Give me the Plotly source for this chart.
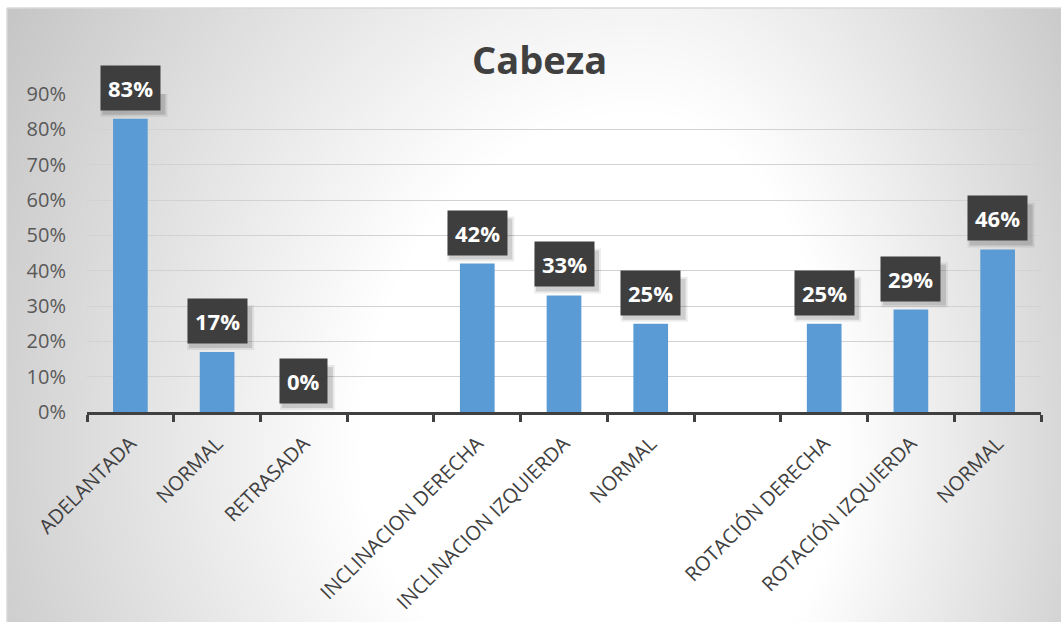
import numpy as np
import plotly.graph_objects as go

# Chart data
categories = ["ADELANTADA", "NORMAL", "RETRASADA", "",
              "INCLINACION DERECHA", "INCLINACION IZQUIERDA", "NORMAL", "",
              "ROTACIÓN DERECHA", "ROTACIÓN IZQUIERDA", "NORMAL"]
values = [0.83, 0.17, 0.00, None, 0.42, 0.33, 0.25, None, 0.25, 0.29, 0.46]
y_ticks = [0.0, 0.1, 0.2, 0.3, 0.4, 0.5, 0.6, 0.7, 0.8, 0.9]
title_text = "Cabeza"

W, H = 1061, 622
FONT = "Open Sans"
BAR_COLOR = "#5B9BD5"
TEXT_DARK = "#404040"

positions = list(range(len(categories)))

# Radial grey-to-white backdrop for the chart area
gx = np.linspace(-20, W + 20, 90)
gy = np.linspace(-20, H + 20, 60)
X, Y = np.meshgrid(gx, gy)
cx, cy = 640.0, 455.0
rx = np.where(X < cx, 700.0, 500.0)
ry = np.where(Y < cy, 850.0, 620.0)
t = np.sqrt(((X - cx) / rx) ** 2 + ((Y - cy) / ry) ** 2)
shade = np.clip((t - 0.40) / 0.68, 0, 1)

fig = go.Figure()

fig.add_trace(go.Heatmap(
    x=gx, y=gy, z=shade, zmin=0, zmax=1, zsmooth="best",
    colorscale=[[0, "#ffffff"], [1, "#c2c2c2"]],
    showscale=False, hoverinfo="skip",
    xaxis="x", yaxis="y",
))

fig.add_trace(go.Bar(
    x=positions, y=values,
    marker=dict(color=BAR_COLOR, line=dict(width=0)),
    xaxis="x2", yaxis="y2", hoverinfo="skip",
))

# Data labels: dark boxes with a soft drop shadow drawn as pixel-sized shapes
annotations = []
shapes = []
for xi, v in zip(positions, values):
    if v is None:
        continue
    label = f"{round(v * 100)}%"
    half_w = 31 if len(label) == 3 else 25
    for grow, alpha in ((2, 0.07), (0, 0.13)):
        shapes.append(dict(
            type="rect", xref="x2", yref="y2",
            xsizemode="pixel", ysizemode="pixel", xanchor=xi, yanchor=v,
            x0=-half_w + 3 - grow, x1=half_w + 4 + grow,
            y0=4 - grow, y1=45 + grow,
            fillcolor=f"rgba(0,0,0,{alpha})", line=dict(width=0), layer="above",
        ))
    annotations.append(dict(
        x=xi, y=v, xref="x2", yref="y2", text=f"<b>{label}</b>",
        showarrow=False, yanchor="bottom", yshift=8,
        font=dict(family=FONT, size=22, color="#ffffff"),
        bgcolor="#3e3e3e", borderpad=7,
    ))

annotations.append(dict(
    x=539.5 / W, y=1 - 59 / H, xref="paper", yref="paper",
    text=f"<b>{title_text}</b>", showarrow=False,
    xanchor="center", yanchor="middle",
    font=dict(family=FONT, size=38, color=TEXT_DARK),
))

shapes += [
    dict(type="line", xref="paper", yref="paper",
         x0=7 / W, x1=7 / W, y0=0, y1=1 - 8 / H,
         line=dict(color="#d9d9d9", width=1.5)),
    dict(type="line", xref="paper", yref="paper",
         x0=7 / W, x1=1, y0=1 - 8 / H, y1=1 - 8 / H,
         line=dict(color="#d9d9d9", width=1.5)),
]

x0d, x1d = 87 / W, 1041 / W
y0d, y1d = (H - 412) / H, (H - 94) / H

fig.update_layout(
    width=W, height=H, autosize=False,
    margin=dict(l=0, r=0, t=0, b=0, autoexpand=False),
    paper_bgcolor="#ffffff", plot_bgcolor="rgba(0,0,0,0)",
    showlegend=False, bargap=0.6,
    font=dict(family=FONT, color=TEXT_DARK),
    xaxis=dict(domain=[7 / W, 1], range=[7, W], visible=False,
               fixedrange=True, automargin=False),
    yaxis=dict(domain=[0, 1 - 8 / H], range=[H, 8], visible=False,
               fixedrange=True, automargin=False),
    xaxis2=dict(
        domain=[x0d, x1d], anchor="y2", range=[-0.5, len(categories) - 0.5],
        automargin=False,
        tickmode="array", tickvals=positions, ticktext=categories,
        tickangle=-45, ticks="", showgrid=False, zeroline=False,
        showline=True, linecolor="#404040", linewidth=3,
        ticklabelstandoff=9,
        tickfont=dict(family=FONT, size=20, color=TEXT_DARK),
        minor=dict(tickmode="linear", tick0=-0.5, dtick=1, ticks="outside",
                   ticklen=7, tickwidth=3, tickcolor="#404040", showgrid=False),
    ),
    yaxis2=dict(
        domain=[y0d, y1d], anchor="x2", range=[0, 0.9], automargin=False,
        tickmode="array", tickvals=y_ticks, tickformat=".0%",
        showgrid=True, gridcolor="#d2d2d2", gridwidth=1,
        zeroline=False, showline=False, ticks="",
        ticklabelstandoff=20,
        tickfont=dict(family=FONT, size=20, color="#595959"),
    ),
    annotations=annotations,
    shapes=shapes,
)

fig.write_html("out.html")
